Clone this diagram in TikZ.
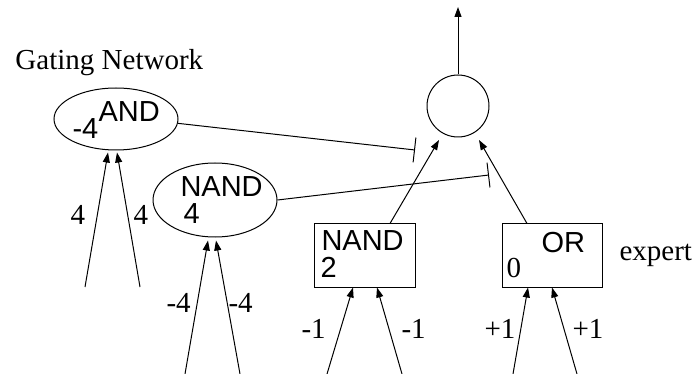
\documentclass[tikz,border=0pt]{standalone}
\usepackage{fontspec}
\setmainfont{Liberation Serif}
\newfontfamily\hv{Liberation Sans}
\usetikzlibrary{arrows.meta,shapes.geometric,calc}
\begin{document}
\begin{tikzpicture}[x=1pt,y=-1pt, line width=1pt,
  arr/.style={-{Triangle[length=10pt,width=7pt]}},
  inh/.style={-{Bar[width=25pt]}},
  gate/.style={ellipse,draw,minimum width=124pt,minimum height=62pt,inner sep=0pt},
  unit/.style={rectangle,draw,minimum width=101pt,minimum height=63pt,inner sep=0pt},
  sumnode/.style={circle,draw,minimum size=62pt,inner sep=0pt},
  sans/.style={font=\hv\fontsize{29}{31}\selectfont,inner sep=0pt,anchor=base west},
  serif/.style={font=\fontsize{29}{31}\selectfont,inner sep=0pt,anchor=base west}]
\useasboundingbox (0,0) rectangle (696,374);
% units
\node[gate] (AND) at (116,119) {};
\node[gate, minimum height=74pt] (NANDg) at (215,200) {};
\node[unit] (NANDe) at (364.5,255.5) {};
\node[unit, minimum width=100pt] (ORe) at (552,255.5) {};
\node[sumnode] (S) at (458,106) {};
\coordinate (out) at (458,7);
% texts
\node[serif] (title) at (15,70) {Gating Network};
\node[sans] (andw) at (72,139) {-4};
\node[sans] (andl) at (98,122) {AND};
\node[sans] (ng) at (180,197) {NAND};
\node[sans] (ngw) at (183,223) {4};
\node[sans] (ne) at (321,251) {NAND};
\node[sans] (new) at (320,277) {2};
\node[sans] (orl) at (541,252) {OR};
\node[serif] (orw) at (506,277) {0};
\node[serif] (expert) at (619,260) {expert};
% weights
\node[serif] (w1) at (70,225) {4};
\node[serif] (w2) at (133,225) {4};
\node[serif] (w3) at (166,312) {-4};
\node[serif] (w4) at (228,312) {-4};
\node[serif] (w5) at (301,338) {-1};
\node[serif] (w6) at (401,338) {-1};
\node[serif] (w7) at (484,338) {+1};
\node[serif] (w8) at (572,338) {+1};
% inputs
\coordinate (i1) at (85,287);
\coordinate (i2) at (140,287);
\coordinate (i3) at (185,374);
\coordinate (i4) at (240,374);
\coordinate (i5) at (327,374);
\coordinate (i6) at (402,374);
\coordinate (i7) at (513,374);
\coordinate (i8) at (577,374);
\draw[arr] (i1) -- ($(AND.south)+(-8,2)$);
\draw[arr] (i2) -- ($(AND.south)+(1,2)$);
\draw[arr] (i3) -- ($(NANDg.south)+(-7,3)$);
\draw[arr] (i4) -- ($(NANDg.south)+(1,3)$);
\draw[arr] (i5) -- ($(NANDe.south)+(-11.5,0)$);
\draw[arr] (i6) -- ($(NANDe.south)+(12.5,0)$);
\draw[arr] (i7) -- ($(ORe.south)+(-24,0)$);
\draw[arr] (i8) -- (ORe.south);
% to sum
\draw[arr] ($(NANDe.north)+(25.5,0)$) -- ($(S.center)+(-19,34)$);
\draw[arr] ($(ORe.north)+(-25,0)$) -- ($(S.center)+(21,34)$);
\draw[arr] (S.north) -- (out);
% gating (inhibitory)
\coordinate (b1) at (415,150);
\coordinate (b2) at (489,175);
\draw[inh] (AND.-4) -- (b1);
\draw[inh] (NANDg.east) -- (b2);
\end{tikzpicture}
\end{document}
